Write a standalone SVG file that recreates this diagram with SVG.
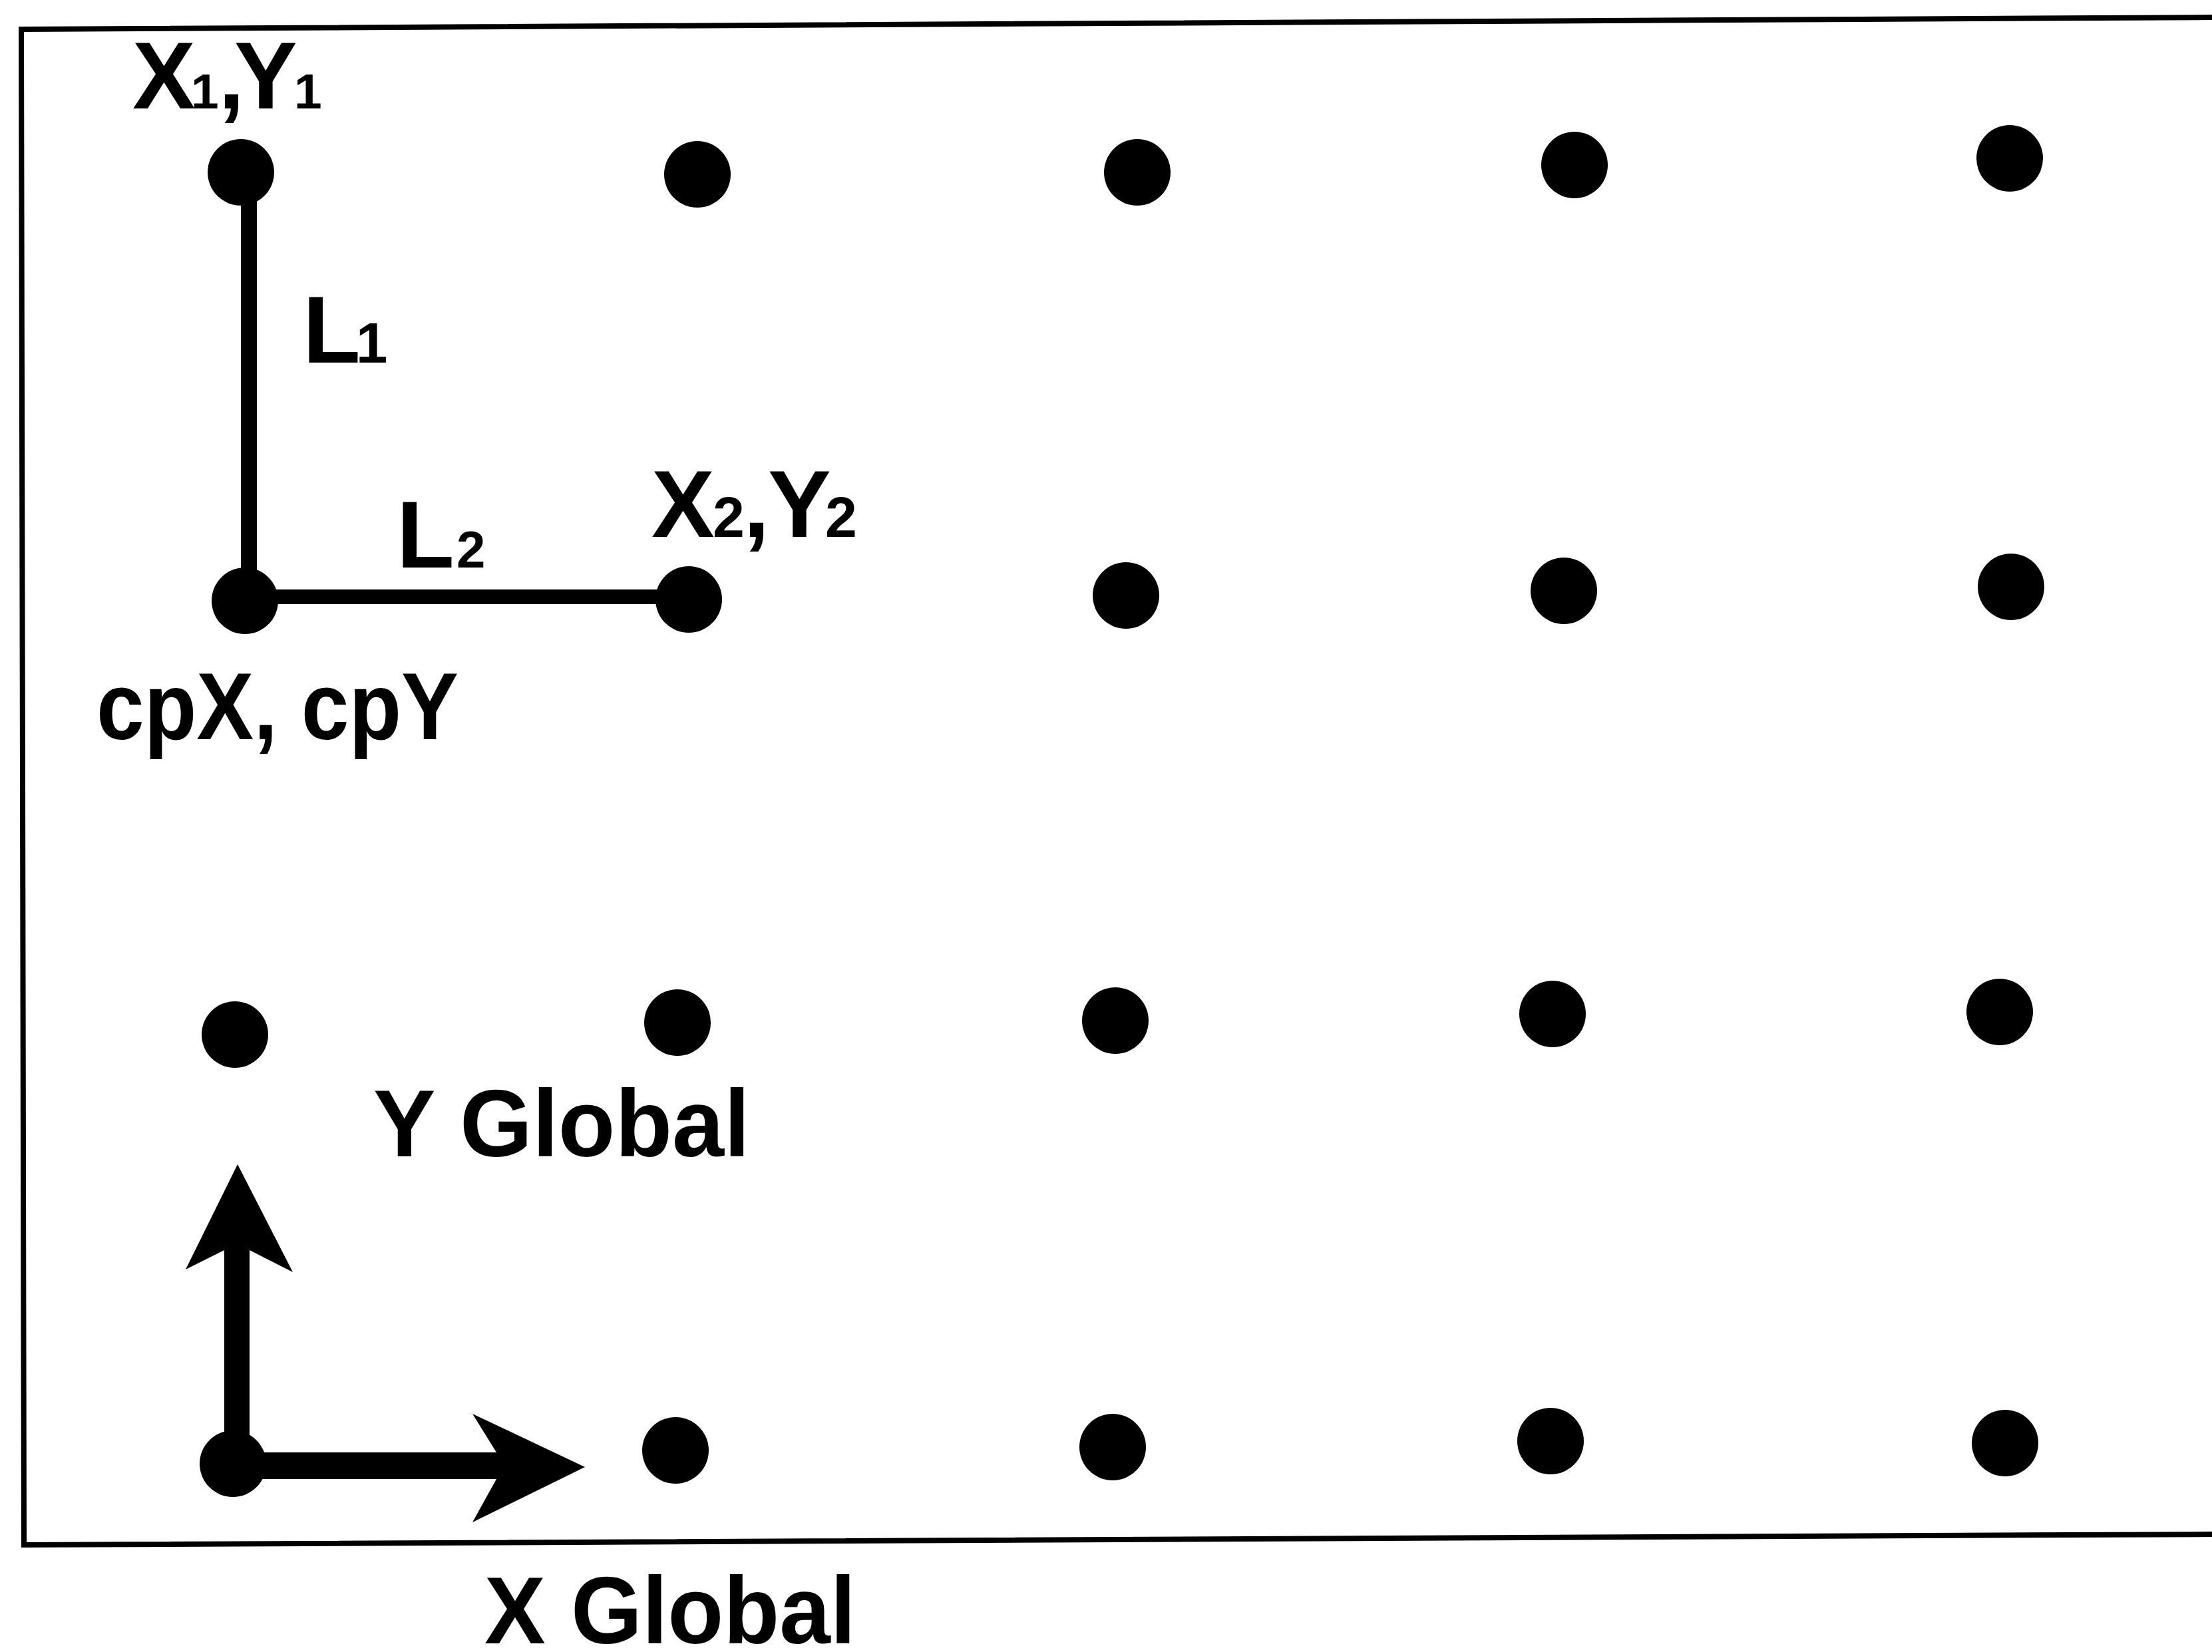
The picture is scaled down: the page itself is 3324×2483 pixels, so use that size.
<svg xmlns="http://www.w3.org/2000/svg" width="3324" height="2483" viewBox="0 0 3324 2483">
<style>
.lbl{font-family:"Liberation Sans",Arial,sans-serif;font-weight:bold;font-size:142px;fill:#000}
.dot{fill:#000}
.frame{fill:none;stroke:#000;stroke-width:8}
</style>
<rect width="3324" height="2483" fill="#fff"/>
<path class="frame" d="M3330,26 L32,44 L36,2322 L3330,2306"/>
<g id="connectors">
<line x1="374" y1="280" x2="374" y2="890" stroke="#000" stroke-width="24"/>
<line x1="390" y1="897" x2="1010" y2="897" stroke="#000" stroke-width="22"/>
<g id="axis-y">
<line x1="356" y1="2200" x2="356" y2="1875" stroke="#000" stroke-width="38"/>
<polygon points="357,1750 440,1912 375,1879 337,1879 279,1908" fill="#000"/>
</g>
<g id="axis-x">
<line x1="345" y1="2203" x2="750" y2="2203" stroke="#000" stroke-width="40"/>
<polygon points="879,2205 710,2288 746,2223 746,2183 710,2125" fill="#000"/>
</g>
</g>
<g id="row1">
<g id="p-x1y1"><circle class="dot" cx="362" cy="259" r="50"/></g>
<g id="n-r1c2"><circle class="dot" cx="1048" cy="262" r="50"/></g>
<g id="n-r1c3"><circle class="dot" cx="1709" cy="259" r="50"/></g>
<g id="n-r1c4"><circle class="dot" cx="2366" cy="248" r="50"/></g>
<g id="n-r1c5"><circle class="dot" cx="3020" cy="238" r="50"/></g>
</g>
<g id="row2">
<g id="p-cp"><circle class="dot" cx="368" cy="903" r="50"/></g>
<g id="p-x2y2"><circle class="dot" cx="1035" cy="901" r="50"/></g>
<g id="n-r2c3"><circle class="dot" cx="1692" cy="895" r="50"/></g>
<g id="n-r2c4"><circle class="dot" cx="2350" cy="888" r="50"/></g>
<g id="n-r2c5"><circle class="dot" cx="3022" cy="882" r="50"/></g>
</g>
<g id="row3">
<g id="n-r3c1"><circle class="dot" cx="353" cy="1555" r="50"/></g>
<g id="n-r3c2"><circle class="dot" cx="1018" cy="1537" r="50"/></g>
<g id="n-r3c3"><circle class="dot" cx="1676" cy="1534" r="50"/></g>
<g id="n-r3c4"><circle class="dot" cx="2333" cy="1524" r="50"/></g>
<g id="n-r3c5"><circle class="dot" cx="3005" cy="1521" r="50"/></g>
</g>
<g id="row4">
<g id="n-origin"><circle class="dot" cx="350" cy="2200" r="50"/></g>
<g id="n-r4c2"><circle class="dot" cx="1015" cy="2180" r="50"/></g>
<g id="n-r4c3"><circle class="dot" cx="1672" cy="2175" r="50"/></g>
<g id="n-r4c4"><circle class="dot" cx="2330" cy="2166" r="50"/></g>
<g id="n-r4c5"><circle class="dot" cx="3013" cy="2169" r="50"/></g>
</g>
<g id="labels">
<text class="lbl" y="163"><tspan x="199">X</tspan><tspan x="287" font-size="75">1</tspan><tspan x="328">,</tspan><tspan x="352">Y</tspan><tspan x="442" font-size="75">1</tspan></text>
<text class="lbl" y="545" font-size="150"><tspan x="455">L</tspan><tspan x="535" font-size="85">1</tspan></text>
<text class="lbl" y="853" font-size="148"><tspan x="596">L</tspan><tspan x="686" font-size="78">2</tspan></text>
<text class="lbl" y="807"><tspan x="979">X</tspan><tspan x="1071" font-size="86">2</tspan><tspan x="1117">,</tspan><tspan x="1154">Y</tspan><tspan x="1240" font-size="86">2</tspan></text>
<text class="lbl" x="145" y="1111" textLength="544" lengthAdjust="spacingAndGlyphs">cpX, cpY</text>
<text class="lbl" x="561" y="1738" textLength="566" lengthAdjust="spacingAndGlyphs">Y Global</text>
<text class="lbl" x="728" y="2470" font-size="138" textLength="558" lengthAdjust="spacingAndGlyphs">X Global</text>
</g>
</svg>
